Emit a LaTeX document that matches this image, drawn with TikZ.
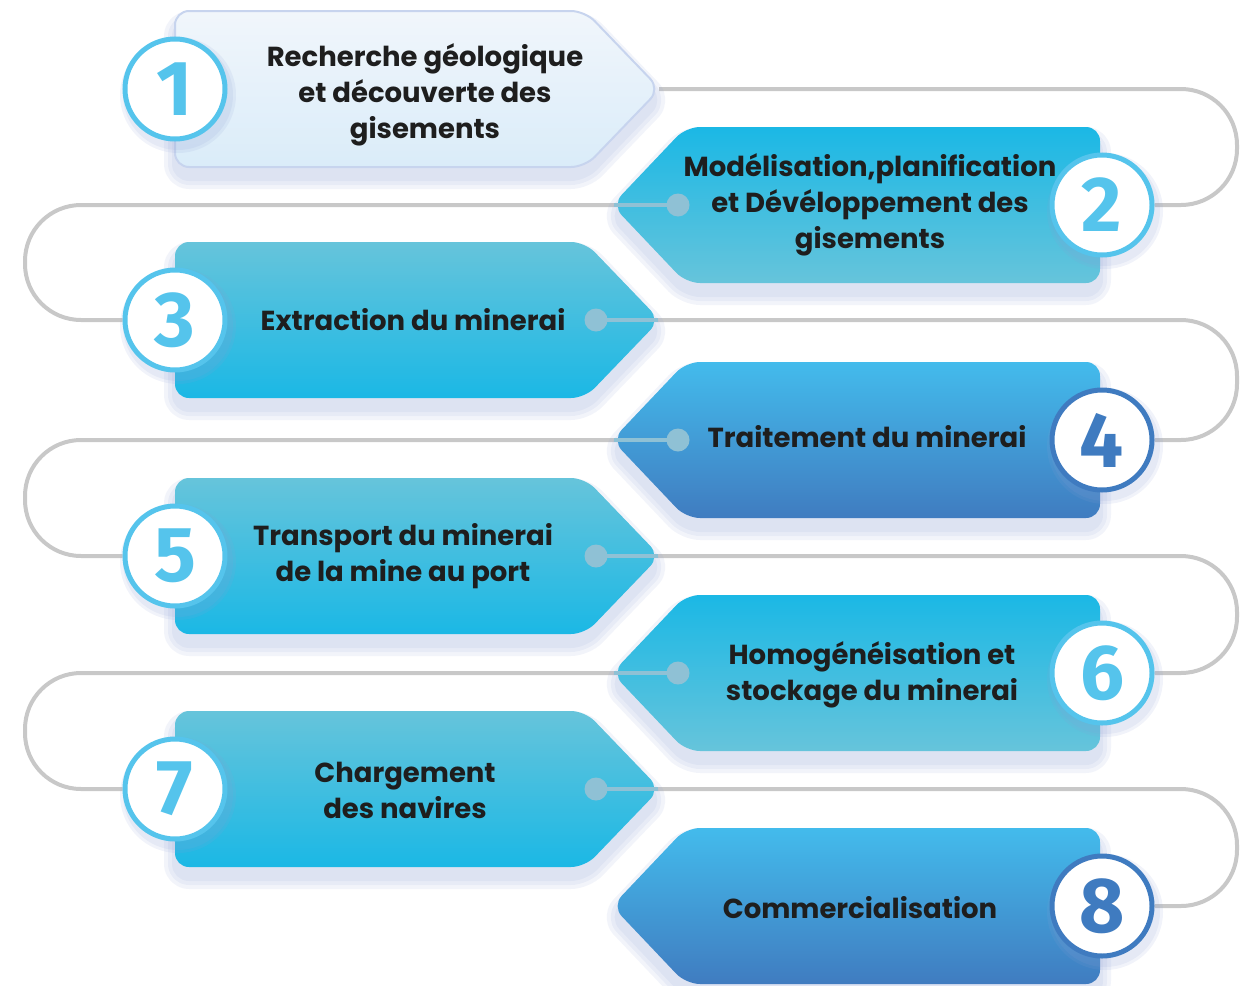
\documentclass[tikz,border=0pt]{standalone}
\usepackage{fontspec}
\setmainfont{Poppins}
\newfontfamily\numfont{Fira Sans}
\usetikzlibrary{calc}
\pgfdeclarelayer{bg}
\pgfsetlayers{bg,main}
\definecolor{linegray}{HTML}{C8C8C8}
\definecolor{dotc}{HTML}{8FC1D5}
\definecolor{cyanring}{HTML}{55C4EC}
\definecolor{bluering}{HTML}{3F7BC0}
\definecolor{bonetop}{HTML}{F1F6FB}
\definecolor{bonebot}{HTML}{DAECF9}
\definecolor{boneedge}{HTML}{C7D4EE}
\definecolor{ccyan}{HTML}{1BB8E5}
\definecolor{lcyan}{HTML}{66C4DB}
\definecolor{btop}{HTML}{43BBEC}
\definecolor{bbot}{HTML}{407CC0}
\definecolor{shad}{HTML}{8C9FD4}
\definecolor{textc}{HTML}{1E1E1E}
\newcommand\rpath[1]{(175,#1-78) -- (585,#1-78) -- (660,#1) -- (585,#1+78) -- (175,#1+78) -- cycle}
\newcommand\lpath[1]{(1100,#1-78) -- (686,#1-78) -- (612,#1) -- (686,#1+78) -- (1100,#1+78) -- cycle}
\newcommand\softshadow[1]{%
  \foreach \w in {22,14,6}{%
    \begin{scope}[transparency group, opacity=0.11, shift={(0,11)}]
      \path[fill=shad, draw=shad, line width=\w pt, line join=round, rounded corners=14pt] #1;
    \end{scope}}}
\newcommand\ringshadow[1]{%
  \foreach \r in {58,55}{%
    \fill[shad, opacity=0.12] ($(#1)+(3,6)$) circle (\r);}}
\tikzset{
  conn/.style={draw=linegray, line width=4pt, rounded corners=56pt},
  inseg/.style={draw=dotc, line width=4pt},
  dotnode/.style={circle, fill=dotc, minimum size=23pt, inner sep=0pt},
  ring/.style={circle, fill=white, line width=5pt, minimum size=100pt, inner sep=0pt,
    font=\numfont\bfseries\fontsize{78}{78}\selectfont},
  cring/.style={ring, draw=cyanring, text=cyanring},
  bring/.style={ring, draw=bluering, text=bluering},
  lab/.style={align=center, text=textc, font=\bfseries\fontsize{27.5}{36}\selectfont},
  boxshape/.style={rounded corners=14pt}
}
\begin{document}
\begin{tikzpicture}[x=1pt,y=-1pt]
\useasboundingbox (0,0) rectangle (1249,985);
% shadows
\softshadow{\rpath{89}}
\softshadow{\lpath{205}}
\softshadow{\rpath{320}}
\softshadow{\lpath{440}}
\softshadow{\rpath{556}}
\softshadow{\lpath{673}}
\softshadow{\rpath{789}}
\softshadow{\lpath{906}}
% boxes
\path[boxshape, top color=bonetop, bottom color=bonebot, draw=boneedge, line width=2pt] \rpath{89};
\path[boxshape, top color=ccyan, bottom color=lcyan] \lpath{205};
\path[boxshape, top color=lcyan, bottom color=ccyan] \rpath{320};
\path[boxshape, top color=btop, bottom color=bbot] \lpath{440};
\path[boxshape, top color=lcyan, bottom color=ccyan] \rpath{556};
\path[boxshape, top color=ccyan, bottom color=lcyan] \lpath{673};
\path[boxshape, top color=lcyan, bottom color=ccyan] \rpath{789};
\path[boxshape, top color=btop, bottom color=bbot] \lpath{906};
% tips and dots
\coordinate (t1) at (659,89);
\coordinate (e2) at (614,205);
\coordinate (e3) at (658,320);
\coordinate (e4) at (614,440);
\coordinate (e5) at (658,556);
\coordinate (e6) at (614,673);
\coordinate (e7) at (658,789);
\draw[inseg] (678,205) -- (e2);
\draw[inseg] (596,320) -- (e3);
\draw[inseg] (678,440) -- (e4);
\draw[inseg] (596,556) -- (e5);
\draw[inseg] (678,673) -- (e6);
\draw[inseg] (596,789) -- (e7);
\node[dotnode] (d2) at (678,205) {};
\node[dotnode] (d3) at (596,320) {};
\node[dotnode] (d4) at (678,440) {};
\node[dotnode] (d5) at (596,556) {};
\node[dotnode] (d6) at (678,673) {};
\node[dotnode] (d7) at (596,789) {};
% number rings
\ringshadow{175,89}
\ringshadow{1102,205}
\ringshadow{175,320}
\ringshadow{1102,440}
\ringshadow{175,556}
\ringshadow{1102,673}
\ringshadow{175,789}
\ringshadow{1102,906}
\node[cring] (n1) at (175,89) {1};
\node[cring] (n2) at (1102,205) {2};
\node[cring] (n3) at (175,320) {3};
\node[bring] (n4) at (1102,440) {4};
\node[cring] (n5) at (175,556) {5};
\node[cring] (n6) at (1102,673) {6};
\node[cring] (n7) at (175,789) {7};
\node[bring] (n8) at (1102,906) {8};
% labels
\node[lab] (l1) at (425,95) {Recherche géologique\\et découverte des\\gisements};
\node[lab] (l2) at (870,205) {Modélisation,planification\\et Dévéloppement des\\gisements};
\node[lab] (l3) at (413,320) {Extraction du minerai};
\node[lab] (l4) at (867,437) {Traitement du minerai};
\node[lab] (l5) at (403,556) {Transport du minerai\\de la mine au port};
\node[lab] (l6) at (872,675) {Homogénéisation et\\stockage du minerai};
\node[lab] (l7) at (405,790) {Chargement\\des navires};
\node[lab] (l8) at (860,908) {Commercialisation};
% connectors
\begin{pgfonlayer}{bg}
\draw[conn] (t1) -- (1237,89) -- (1237,205) -- (n2.east);
\draw[conn] (d2) -- (25,205) -- (25,320) -- (n3.west);
\draw[conn] (d3) -- (1237,320) -- (1237,440) -- (n4.east);
\draw[conn] (d4) -- (25,440) -- (25,556) -- (n5.west);
\draw[conn] (d5) -- (1237,556) -- (1237,673) -- (n6.east);
\draw[conn] (d6) -- (25,673) -- (25,789) -- (n7.west);
\draw[conn] (d7) -- (1237,789) -- (1237,906) -- (n8.east);
\end{pgfonlayer}
\end{tikzpicture}
\end{document}
